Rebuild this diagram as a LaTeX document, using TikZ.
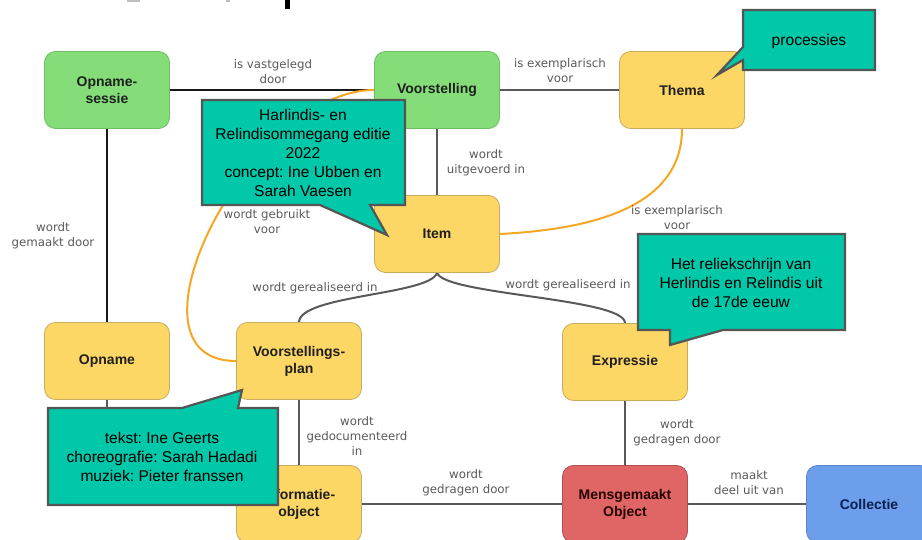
\documentclass[tikz,border=0pt]{standalone}
\usepackage{fontspec}
\setmainfont{Liberation Sans}
\newfontfamily\labfont{DejaVu Sans}
\usetikzlibrary{backgrounds}
\frenchspacing
\definecolor{gfill}{HTML}{84DD78}
\definecolor{gdraw}{HTML}{6BBF60}
\definecolor{yfill}{HTML}{FDD766}
\definecolor{ydraw}{HTML}{C8AB60}
\definecolor{rfill}{HTML}{E06666}
\definecolor{rdraw}{HTML}{B44E4E}
\definecolor{bfill}{HTML}{6D9EEB}
\definecolor{bdraw}{HTML}{5A86CC}
\definecolor{cfill}{HTML}{00C8A8}
\definecolor{cedge}{HTML}{555555}
\definecolor{lgray}{HTML}{5A5A5A}
\definecolor{orng}{HTML}{F5A623}
\tikzset{
  box/.style={rectangle, rounded corners=11pt, minimum width=125pt, minimum height=77pt,
    line width=0.8pt, align=center, font=\bfseries\fontsize{14}{17}\selectfont, text=black!88},
  gbox/.style={box, fill=gfill, draw=gdraw},
  ybox/.style={box, fill=yfill, draw=ydraw},
  rbox/.style={box, fill=rfill, draw=rdraw, text=black!85!red},
  bbox/.style={box, fill=bfill, draw=bdraw, text={rgb,255:red,10;green,30;blue,80}},
  blk/.style={draw=black!90, line width=2.4pt},
  gry/.style={draw=black!65, line width=2pt},
  org/.style={draw=orng, line width=2pt},
  lab/.style={font=\labfont\fontsize{11.8}{15}\selectfont, text=lgray, align=center, inner sep=0pt},
  callout/.style={fill=cfill, draw=cedge, line width=2.2pt, line join=miter},
  ctext/.style={font=\fontsize{15.6}{19}\selectfont, text=black, align=center, inner sep=0pt}
}
\begin{document}
\begin{tikzpicture}[x=1pt,y=-1pt]
\useasboundingbox (0,0) rectangle (922,540);
% title fragments cut off at the top edge
\fill[black] (285,0) rectangle (290,9);
\fill[black!25] (127,0) rectangle (140,2);
\fill[black!25] (226,0) rectangle (230,2);

% nodes
\node[gbox] (sessie) at (107,90) {Opname-\\sessie};
\node[gbox] (voorst) at (437,90) {Voorstelling};
\node[ybox] (thema) at (682,90) {Thema};
\node[ybox] (item) at (437,234) {Item};
\node[ybox] (opname) at (107,361) {Opname};
\node[ybox] (vplan) at (299,361) {Voorstellings-\\plan};
\node[ybox] (expr) at (625,362) {Expressie};
\node[ybox] (info) at (299,504) {Informatie-\\object};
\node[rbox] (mens) at (625,504) {Mensgemaakt\\Object};
\node[bbox] (coll) at (869,504) {Collectie};

% connectors
\begin{scope}[on background layer]
\draw[blk] (sessie.east) -- (voorst.west);
\draw[gry] (voorst.east) -- (thema.west);
\draw[blk] (sessie.south) -- (opname.north);
\draw[gry] (voorst.south) -- (item.north);
\draw[org] (thema.south) to[out=-90, in=3] (item.east);
\draw[org] (voorst.west) to[out=180, in=180, looseness=1.05] (vplan.west);
\draw[gry] (item.south) .. controls (430,295) and (300,295) .. (vplan.north);
\draw[gry] (item.south) .. controls (445,295) and (625,298) .. (expr.north);
\draw[gry] (vplan.south) -- (info.north);
\draw[gry] (info.east) -- (mens.west);
\draw[gry] (expr.south) -- (mens.north);
\draw[gry] (mens.east) -- (coll.west);
\draw[gry] (opname.south) |- (info.west);
\end{scope}

% connector labels
\node[lab] (l1) at (273,72) {is vastgelegd\\door};
\node[lab] (l2) at (560,71) {is exemplarisch\\voor};
\node[lab] (l3) at (486,163) {wordt\\uitgevoerd in};
\node[lab] (l4) at (677,218) {is exemplarisch\\voor};
\node[lab] (l5) at (267,222) {wordt gebruikt\\voor};
\node[lab] (l6) at (53,236) {wordt\\gemaakt door};
\node[lab] (l7) at (315,288) {wordt gerealiseerd in};
\node[lab] (l8) at (568,285) {wordt gerealiseerd in};
\node[lab] (l9) at (357,436) {wordt\\gedocumenteerd\\in};
\node[lab] (l10) at (466,483) {wordt\\gedragen door};
\node[lab] (l11) at (677,433) {wordt\\gedragen door};
\node[lab] (l12) at (749,483) {maakt\\deel uit van};

% callouts
\draw[callout] (743,10) -- (875,10) -- (875,70) -- (743,70) -- (743,60) -- (717,75) -- (743,47) -- cycle;
\node[ctext] (c1) at (809,41) {processies};

\draw[callout] (202,100) -- (405,100) -- (405,205) -- (370,205) -- (387,235) -- (320,205) -- (202,205) -- cycle;
\node[ctext] (c2) at (303,153) {Harlindis- en\\Relindisommegang editie\\2022\\concept: Ine Ubben en\\Sarah Vaesen};

\draw[callout] (638,234) -- (845,234) -- (845,330) -- (723,330) -- (670,345) -- (670,330) -- (638,330) -- cycle;
\node[ctext] (c3) at (741,283) {Het reliekschrijn van\\Herlindis en Relindis uit\\de 17de eeuw};

\draw[callout] (48,408) -- (182,408) -- (242,390) -- (238,408) -- (278,408) -- (278,505) -- (48,505) -- cycle;
\node[ctext] (c4) at (162,457) {tekst: Ine Geerts\\choreografie: Sarah Hadadi\\muziek: Pieter franssen};
\end{tikzpicture}
\end{document}
